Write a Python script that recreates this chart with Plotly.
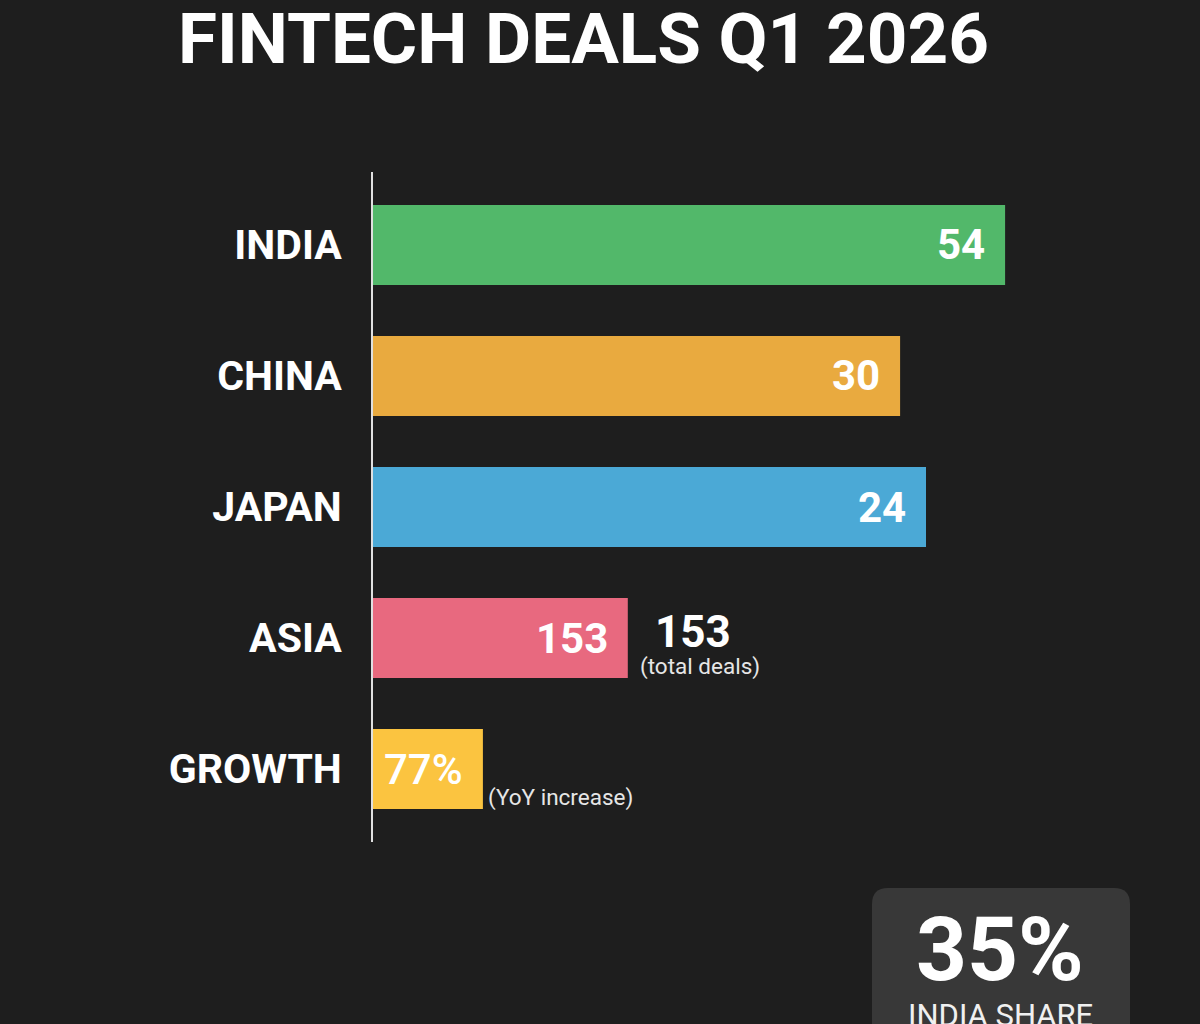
import plotly.graph_objects as go

# ---- data ----
categories = ["INDIA", "CHINA", "JAPAN", "ASIA", "GROWTH"]
bar_length = [90.3, 75.3, 79.0, 36.4, 15.7]          # visual bar lengths (as drawn)
value_labels = ["54", "30", "24", "153", "77%"]
value_weights = ["bold", "bold", "bold", "bold", 500]
bar_colors = ["#52b86a", "#e9aa3f", "#4ba9d6", "#e8697f", "#fbc440"]
asia_total = "153"
asia_note = "(total deals)"
growth_note = "(YoY increase)"
share_value = "35%"
share_label = "INDIA SHARE"
title_text = "FINTECH DEALS Q1 2026"

W, H = 1200, 1024
L, R, T, B = 373, 1073, 172, 842


def px(x):
    return (x - L) / (R - L)


def py(y):
    return (B - y) / (B - T)


fig = go.Figure()
fig.add_trace(go.Bar(
    y=categories, x=bar_length, orientation="h",
    marker=dict(color=bar_colors, line=dict(width=0)),
    width=0.61, hoverinfo="skip",
))

annotations = []
for cat, length, lab, wt in zip(categories, bar_length, value_labels, value_weights):
    annotations.append(dict(
        text=lab, x=length, y=cat, xref="x", yref="y", xanchor="right",
        yanchor="middle", xshift=-18, showarrow=False,
        font=dict(family="Roboto", size=42, color="white", weight=wt)))


def note(text, x, y, size, weight="normal", color="white"):
    return dict(text=text, x=px(x), y=py(y), xref="paper", yref="paper",
                xanchor="center", yanchor="middle", showarrow=False,
                font=dict(family="Roboto", size=size, color=color, weight=weight))


annotations += [
    note(asia_total, 693, 632, 44, "bold"),
    note(asia_note, 700, 666, 22.5, color="#e6e6e6"),
    note(growth_note, 560, 797, 22.5, color="#e6e6e6"),
    note(share_value, 1000, 949, 89, "bold"),
    note(share_label, 1000, 1016, 31, color="#f0f0f0"),
]

# rounded box
x0, x1, y0, y1, rad = 872, 1130, 888, 1060, 16
X0, X1, Y0, Y1 = px(x0), px(x1), py(y0), py(y1)
rx, ry = rad / (R - L), rad / (B - T)
path = (f"M {X0+rx} {Y0} L {X1-rx} {Y0} Q {X1} {Y0} {X1} {Y0-ry} "
        f"L {X1} {Y1} L {X0} {Y1} L {X0} {Y0-ry} Q {X0} {Y0} {X0+rx} {Y0} Z")
shapes = [dict(type="path", path=path, xref="paper", yref="paper",
               fillcolor="#383838", line=dict(width=0), layer="below")]

fig.update_layout(
    width=W, height=H,
    margin=dict(l=L, r=W - R, t=T, b=H - B),
    paper_bgcolor="#1e1e1e", plot_bgcolor="#1e1e1e",
    showlegend=False,
    title=dict(text=title_text, x=583.5 / W, xanchor="center",
               y=1 - 38 / H, yanchor="middle", yref="container",
               font=dict(family="Roboto", size=71, color="white", weight="bold")),
    xaxis=dict(range=[0, 100], visible=False, fixedrange=True),
    yaxis=dict(type="category", range=[4.557, -0.557], showgrid=False,
               zeroline=False, showline=True, linecolor="#e0e0e0", linewidth=2,
               ticks="", ticklabelstandoff=21,
               tickfont=dict(family="Roboto", size=41, color="white", weight="bold")),
    annotations=annotations, shapes=shapes,
)

fig.write_html("out.html")
